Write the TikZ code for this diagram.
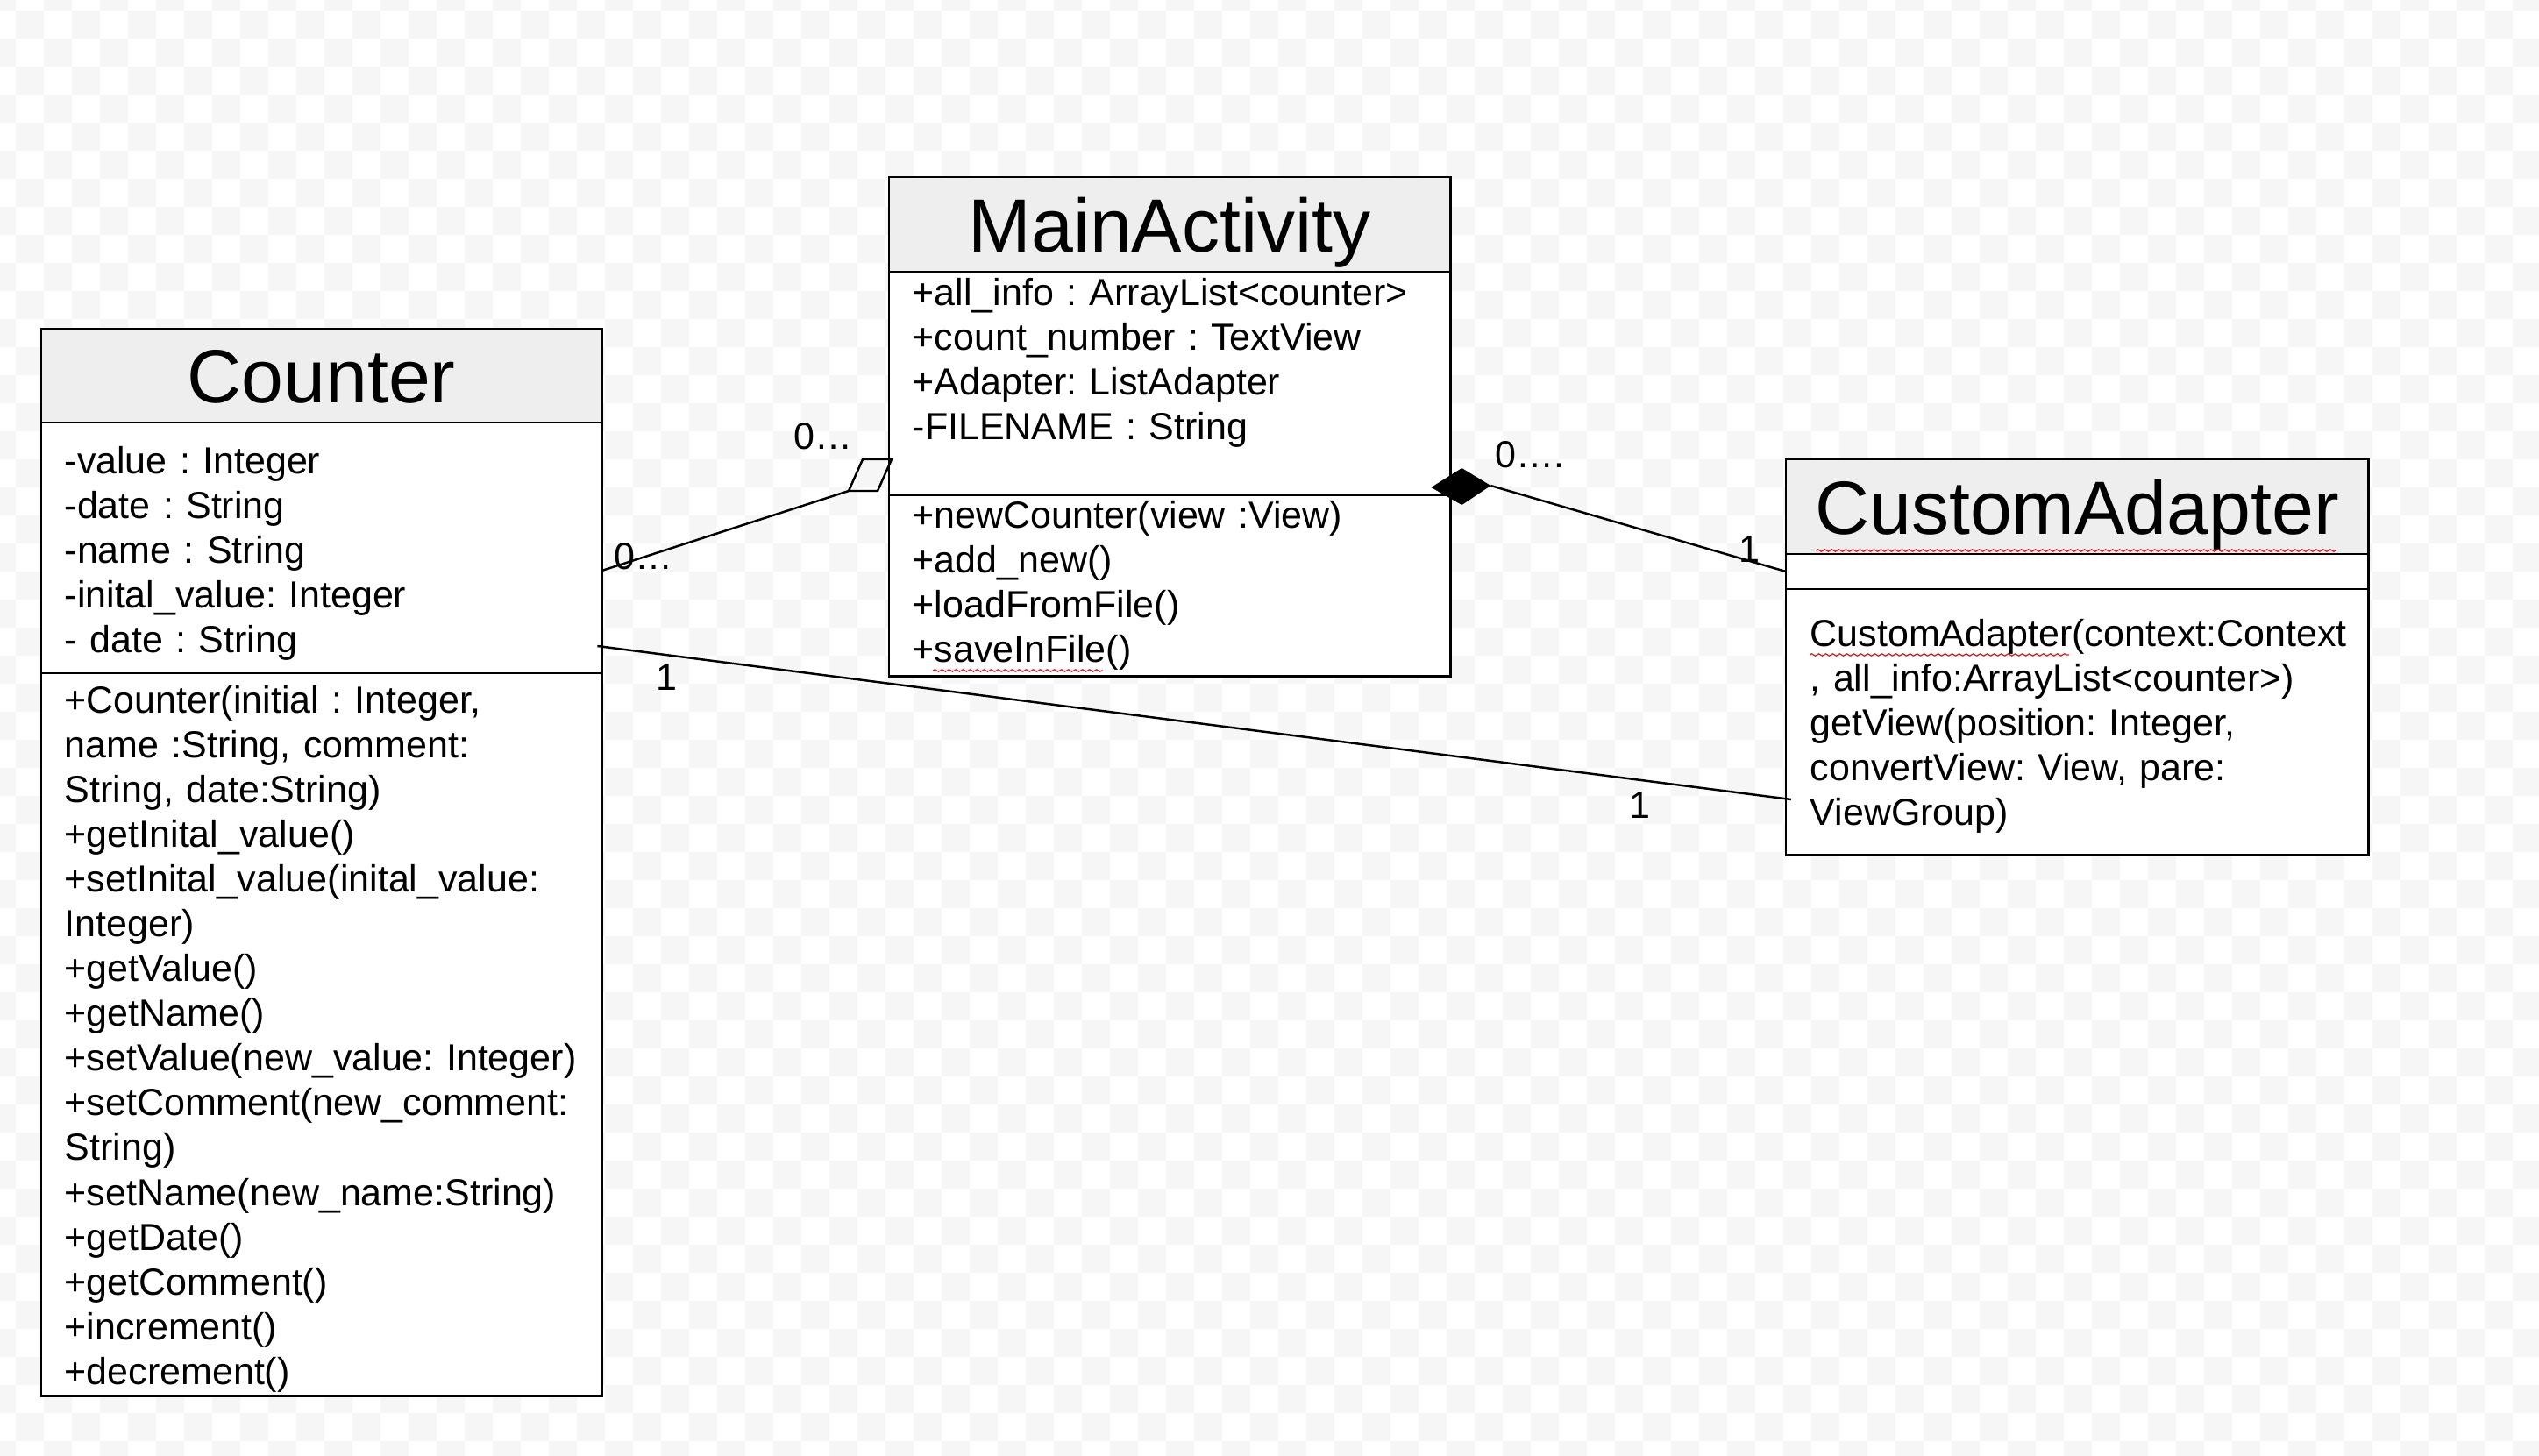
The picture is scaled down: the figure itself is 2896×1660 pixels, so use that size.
\documentclass[tikz,border=0pt]{standalone}
\usepackage{fontspec}
\setmainfont{Liberation Sans}
\usetikzlibrary{calc,decorations.pathmorphing}
\definecolor{headfill}{HTML}{EEEEEE}
\definecolor{checker}{HTML}{F6F6F6}
\definecolor{spell}{HTML}{E8141B}
\begin{document}
\frenchspacing
\begin{tikzpicture}[x=0.01cm,y=-0.01cm,
  classbox/.style={draw=black, line width=0.7pt, fill=white, inner sep=0pt, outer sep=0pt, anchor=north west},
  headbox/.style={draw=black, line width=0.7pt, fill=headfill, inner sep=0pt, outer sep=0pt, anchor=north west},
  ttl/.style={font=\fontsize{24.47}{28}\selectfont, inner sep=0pt, anchor=base},
  body/.style={font=\fontsize{12.23}{14.53}\selectfont\frenchspacing, inner sep=0pt, anchor=base west, align=left, text width=6.2cm},
  lbl/.style={font=\fontsize{12.23}{14.53}\selectfont, inner sep=0pt, anchor=base west},
  conn/.style={line width=0.7pt, line join=miter},
  squig/.style={draw=spell, line width=0.35pt, decorate, decoration={snake, segment length=0.08cm, amplitude=0.012cm}}
]
\useasboundingbox (0,0) rectangle (2896,1660);
% background checkerboard
\begin{scope}
\clip (0,0) rectangle (2896,1660);
\fill[white] (0,0) rectangle (2896,1660);
\fill[checker] \foreach \i [evaluate=\i as \o using {int(mod(\i,2))}] in {0,...,91} {
  \foreach \k in {0,...,26} { (32*\i-14, 64*\k+32*\o-20) rectangle ++(32,32) } };
\end{scope}

% ---------- Counter ----------
\node[classbox, minimum width=6.39cm, minimum height=12.17cm] (counter) at (47,375) {};
\node[headbox, minimum width=6.39cm, minimum height=1.07cm] (counterhead) at (47,375) {};
\draw[line width=0.7pt] ($(counter.north west)+(0,393)$) coordinate (csepw) -- ($(counter.north east)+(0,393)$) coordinate (csepe);
\node[ttl] (countertitle) at (366.5,459.5) {Counter};
\node[body] (counterattr) at (73,540) {-value : Integer\\-date : String\\-name : String\\-inital\_value: Integer\\- date : String};
\node[body] (countermeth) at (73,813) {+Counter(initial : Integer,\\name :String, comment:\\String, date:String)\\+getInital\_value()\\+setInital\_value(inital\_value:\\Integer)\\+getValue()\\+getName()\\+setValue(new\_value: Integer)\\+setComment(new\_comment:\\String)\\+setName(new\_name:String)\\+getDate()\\+getComment()\\+increment()\\+decrement()};

% ---------- MainActivity ----------
\node[classbox, minimum width=6.40cm, minimum height=5.69cm] (main) at (1014,202) {};
\node[headbox, minimum width=6.40cm, minimum height=1.08cm] (mainhead) at (1014,202) {};
\draw[line width=0.7pt] ($(main.north west)+(0,363)$) coordinate (msepw) -- ($(main.north east)+(0,363)$) coordinate (msepe);
\node[ttl] (maintitle) at (1334,287) {MainActivity};
\node[body] (mainattr) at (1040,348) {+all\_info : ArrayList<counter>\\+count\_number : TextView\\+Adapter: ListAdapter\\-FILENAME : String};
\node[body] (mainmeth) at (1040,602) {+newCounter(view :View)\\+add\_new()\\+loadFromFile()\\+saveInFile()};
\draw[squig] (1064,765) coordinate (sq1a) -- (1258,765) coordinate (sq1b);

% ---------- CustomAdapter ----------
\node[classbox, minimum width=6.64cm, minimum height=4.51cm] (cadapt) at (2037,524) {};
\node[headbox, minimum width=6.64cm, minimum height=1.08cm] (cadapthead) at (2037,524) {};
\draw[line width=0.7pt] ($(cadapt.north west)+(0,148)$) coordinate (asepw) -- ($(cadapt.north east)+(0,148)$) coordinate (asepe);
\node[ttl] (cadapttitle) at (2369,609) {CustomAdapter};
\node[body, text width=6.4cm] (cadaptmeth) at (2064,737) {CustomAdapter(context:Context\\, all\_info:ArrayList<counter>)\\getView(position: Integer,\\convertView: View, pare:\\ViewGroup)};
\draw[squig] (2071,628) coordinate (sq2a) -- (2665,628) coordinate (sq2b);
\draw[squig] (2064,747) coordinate (sq3a) -- (2360,747) coordinate (sq3b);

% ---------- connectors ----------
% aggregation Counter -> MainActivity
\coordinate (aggS) at ($(counter.north east)+(0,276)$);
\coordinate (aggE) at ($(main.north west)+(-46,358)$);
\draw[conn] (aggS) -- (aggE);
\draw[conn] (aggE) -- ++(16,-36) -- ++(33,0) -- ++(-16,36) -- cycle;
% composition MainActivity -> CustomAdapter
\coordinate (compL) at ($(main.north east)+(-22,354)$);
\coordinate (compT) at ($(main.north east)+(13,332)$);
\coordinate (compR) at ($(main.north east)+(46,352)$);
\coordinate (compB) at ($(main.north east)+(13,374)$);
\coordinate (compE) at ($(cadapt.north west)+(0,128)$);
\fill[black] (compL) -- (compT) -- (compR) -- (compB) -- cycle;
\draw[conn] (compR) -- (compE);
% association Counter -> CustomAdapter
\coordinate (assS) at ($(counter.north east)+(-5,362)$);
\coordinate (assE) at ($(cadapt.north west)+(6,388)$);
\draw[conn] (assS) -- (assE);

% ---------- multiplicities ----------
\node[lbl] (m1) at (700,649) {0…};
\node[lbl] (m2) at (905,512) {0…};
\node[lbl] (m3) at (1705,533) {0….};
\node[lbl] (m4) at (1983,641) {1};
\node[lbl] (m5) at (748,787) {1};
\node[lbl] (m6) at (1858,933) {1};
\end{tikzpicture}
\end{document}
